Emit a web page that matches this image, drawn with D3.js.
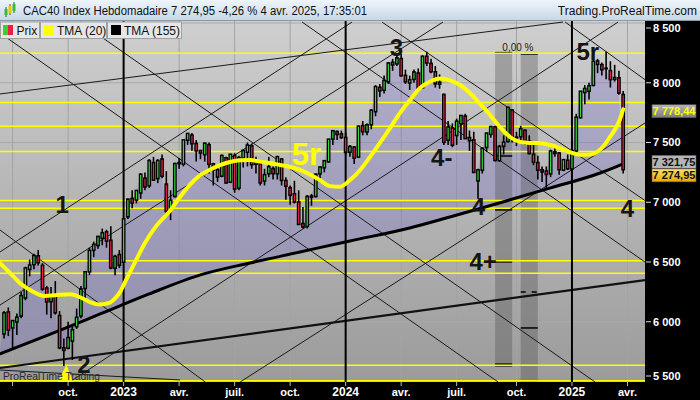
<!DOCTYPE html>
<html><head><meta charset="utf-8">
<script src="https://cdn.jsdelivr.net/npm/d3@7"></script>
<style>html,body{margin:0;padding:0;background:#000;}svg{display:block;font-family:"Liberation Sans",Arial,sans-serif;}</style>
</head><body><svg id="c" width="700" height="400"></svg>
<script>
// ---------- DATA ----------
const firstWeek = "2022-06-20"; // Monday of first weekly bar
const opens  = [5900,6080,5950,6000,6050,6200,6440,6480,6550,6470,6280,6170,6220,6050,5780,5780,5840,5960,6050,6280,6420,6600,6640,6700,6750,6680,6450,6560,
 6500,6880,7030,7020,7080,7200,7140,7330,7200,7360,7150,6950,7050,7330,7320,7520,7560,7490,7430,7400,7480,7320,7270,7220,7370,7170,7390,7120,7370,7420,7470,7320,7320,7180,7240,7280,7240,7360,7180,7120,7070,7000,6820,6800,7050,7050,7240,7290,7340,7530,7590,7570,
 7540,7420,7460,7380,7640,7590,7650,7760,7960,7940,8010,8170,8160,8200,8060,8000,8030,8080,7960,8220,8160,8090,7990,7900,7520,7620,7560,7660,7720,7540,7520,7180,7270,7460,7570,7630,7350,7470,7510,7770,7540,7550,7600,7510,7400,7330,7270,7260,7240,7420,7410,7270,7350,
 7280,7430,7710,7920,7930,7980,8180,8150,8120,8100,8030,8040,7900];
const highs  = [6090,6120,6010,6070,6250,6460,6520,6570,6600,6490,6300,6290,6340,6090,5860,6000,5970,6110,6300,6420,6620,6670,6720,6780,6770,6800,6560,6600,
 6870,7030,7100,7100,7240,7250,7360,7380,7360,7400,7260,7100,7330,7370,7520,7580,7580,7520,7440,7500,7500,7330,7290,7400,7380,7400,7410,7390,7440,7500,7490,7380,7350,7280,7380,7300,7390,7370,7210,7140,7180,7100,6960,7060,7070,7240,7300,7350,7530,7600,7600,7600,
 7580,7480,7470,7640,7680,7660,7780,7980,7990,8060,8170,8200,8250,8240,8110,8060,8110,8120,8230,8260,8200,8140,8070,7910,7680,7660,7700,7730,7740,7600,7590,7280,7460,7580,7640,7640,7480,7560,7800,7780,7590,7640,7610,7560,7500,7390,7300,7300,7440,7470,7420,7360,7400,
 7500,7740,7930,7980,8000,8200,8200,8170,8260,8180,8150,8100,7930];
const lows   = [5860,5880,5780,5890,6030,6180,6380,6440,6470,6260,6060,6030,6060,5770,5630,5770,5680,5940,6030,6180,6390,6540,6610,6640,6620,6440,6390,6450,
 6500,6860,6950,6990,7030,7100,7120,7180,7160,7200,6880,6850,7040,7280,7300,7480,7430,7340,7360,7340,7240,7140,7170,7210,7160,7160,7080,7100,7290,7300,7280,7240,7140,7140,7210,7190,7190,7140,7020,6980,6990,6810,6780,6780,6970,7040,7200,7250,7330,7480,7520,7530,
 7400,7380,7320,7370,7560,7560,7610,7720,7880,7910,7990,8100,8140,8050,7990,7940,8000,7930,7950,8140,8080,7960,7950,7480,7480,7460,7480,7520,7530,7430,7250,7030,7240,7420,7540,7340,7340,7400,7500,7500,7470,7500,7480,7400,7310,7190,7170,7110,7210,7380,7230,7260,7270,
 7270,7400,7700,7820,7860,7970,8080,8060,8030,7960,8010,7900,7240];
const closes = [6073,5931,6008,6036,6217,6449,6472,6553,6495,6274,6168,6212,6077,5783,5762,5866,5932,6035,6273,6416,6595,6644,6712,6742,6677,6452,6546,6474,
 6860,7024,6996,7097,7233,7130,7348,7187,7348,7220,6925,7015,7322,7325,7520,7574,7491,7432,7414,7492,7319,7270,7213,7389,7163,7400,7112,7372,7432,7477,7316,7341,7164,7229,7296,7241,7379,7184,7135,7060,7003,6816,6795,7047,7045,7233,7293,7346,7526,7597,7569,7543,
 7420,7465,7371,7635,7592,7647,7768,7966,7934,8017,8164,8151,8206,8061,8010,8022,8088,7957,8219,8167,8094,7993,8002,7503,7628,7479,7676,7724,7534,7517,7251,7269,7449,7577,7631,7352,7465,7500,7792,7541,7542,7613,7497,7409,7338,7270,7255,7235,7427,7410,7274,7355,
 7282,7431,7710,7927,7950,7973,8178,8155,8111,8120,8028,8042,7916,7275];

// TMA(20) (week position, value)
const tma20Pos = [-1,1.4,3.7,6.1,9.6,11.9,15.5,17.8,20.1,22.5,24.8,26,27.2,28.3,30.7,33,35.4,38.9,41.2,43.6,45.9,48.2,50.6,52.9,55.3,57.6,59.9,62.3,64.6,67,69.3,71.7,74,76.3,78.7,81,83.4,85.7,88,90.4,92.7,95.1,97.4,99.8,102.1,104.4,106.8,109.1,111.5,113.8,116.1,118.5,120.8,123.2,125.5,127.9,130.2,132.5,134.9,137.2,139.6,141.9,144.2,145];
const tma20Val = [6492,6408,6325,6266,6216,6222,6230,6205,6165,6145,6160,6195,6250,6330,6500,6660,6790,6930,7044,7150,7225,7272,7310,7337,7352,7354,7340,7328,7312,7295,7270,7230,7185,7135,7130,7185,7270,7379,7496,7621,7746,7856,7956,8010,8036,8020,7981,7914,7823,7731,7630,7546,7505,7496,7494,7479,7452,7420,7398,7400,7440,7546,7690,7778.44];
// TMA(155)
const tma155Pos = [-1,11,22.5,34,46,57.6,69.3,81,95,104.4,116,128,139.6,145];
const tma155Val = [5731,5898,6065,6233,6392,6492,6584,6676,6785,6877,6994,7120,7245,7321.75];

// Horizontal (yellow) levels
const yellowLevels = [8247,7835,7637,7425,7015,6950,6511,6406,5636,5507];
// Axis
const priceTicks = [5500,6000,6500,7000,7500,8000,8500];
const timeTickWeeks = ["2022-07-04","2022-10-03","2023-01-02","2023-04-03","2023-07-03","2023-10-02","2024-01-01","2024-04-01","2024-07-01","2024-10-07","2025-01-06","2025-04-07"];
const timeTickLabels = ["","oct.","2023","avr.","juil.","oct.","2024","avr.","juil.","oct.","2025","avr."];
const yearWeeks = ["2023-01-02","2024-01-01","2025-01-06"];
// Drawn lines: [week position, value, week position, value]
const thinLines = [
  [-0.95,7906,130.9,8508],
  [-0.95,8416,115.7,5496],
  [-0.95,6768,47.1,5496],
  [17.8,8508,138.4,5496],
  [69.8,8508,150.1,6500],
  [88.5,8508,150.1,7015],
  [131.4,8508,150.1,8026],
  [15.4,5496,143.8,8508],
  [-0.95,6140,102.8,8508],
  [-0.95,6584,81.5,8508],
  [55.3,5496,150.1,7663],
  [-0.95,5596,41.2,5513]
];
const thickLines = [
  [-0.95,5613,150.1,6349]
];
// wave labels
const waveText = ["1","2","3","4-","4","4+","5r","4"];
const wavePos  = [13.6,18.7,91.9,102.5,111.1,112.2,136.7,146];
const waveVal  = [6986,5647,8295,7375,6969,6509,8266,6948];
const bigLabelText = "5r", bigLabelPos = 70.8, bigLabelVal = 7408;
// vertical zones
const zoneFrom = [115,121], zoneTo = [119,125], zoneTop = [8252,8241], zoneBottom = [5630,5490];
const zoneMarksA = [8252,7387,6936,6501,5645,5632];
const zoneMarksB = [8241,5948];
const zoneDashB = [6249];
const lastClose = 7274.95, lastTma20 = 7778.44, lastTma155 = 7321.75;

// ---------- SCALES ----------
const msWeek = 7*864e5;
const wk = d => (new Date(d+"T00:00:00Z") - new Date(firstWeek+"T00:00:00Z"))/msWeek;
const x = d3.scaleLinear().domain([0,145]).range([4.05,623.2]);
const y = d3.scaleLinear().domain([5500,8500]).range([381.5,23]);
const P = {l:0,t:20,r:645,b:382};

const svg = d3.select("#c");
const defs = svg.append("defs");
function grad(id, a, b){ const g=defs.append("linearGradient").attr("id",id).attr("x1",0).attr("y1",0).attr("x2",0).attr("y2",1);
  g.append("stop").attr("offset",0).attr("stop-color",a); g.append("stop").attr("offset",1).attr("stop-color",b); }
grad("bg","#cfcfcf","#9b9b9b"); grad("tb","#eef5fb","#c6d7e6"); grad("gold","#ffe070","#e8a800"); grad("gr","#b4b4b4","#7c7c7c");
defs.append("clipPath").attr("id","clip").append("rect").attr("x",P.l).attr("y",P.t).attr("width",P.r-P.l).attr("height",P.b-P.t);

svg.append("rect").attr("width",700).attr("height",400).attr("fill","#000");
svg.append("rect").attr("x",P.l).attr("y",P.t).attr("width",P.r-P.l).attr("height",P.b-P.t).attr("fill","url(#bg)");
const plot = svg.append("g").attr("clip-path","url(#clip)");

// grid
const tickX = timeTickWeeks.map(d=>x(wk(d)));
plot.selectAll(".vg").data(tickX).join("line").attr("x1",d=>d).attr("x2",d=>d).attr("y1",P.t).attr("y2",P.b).attr("stroke","#a3a3a3").attr("stroke-width",1);
plot.selectAll(".hg").data(priceTicks).join("line").attr("x1",P.l).attr("x2",P.r).attr("y1",d=>y(d)).attr("y2",d=>y(d)).attr("stroke","#a8a8a8").attr("stroke-width",1);

// area between close and TMA155
const areaPts = closes.map((c,i)=>[x(i),y(c)]).concat(tma155Pos.map((p,i)=>[x(p),y(tma155Val[i])]).reverse());
plot.append("path").attr("d",d3.line()(areaPts)+"Z").attr("fill","rgba(112,100,210,0.28)");

// zones
zoneFrom.forEach((f,k)=>{
  plot.append("rect").attr("x",x(f)).attr("width",x(zoneTo[k])-x(f)).attr("y",y(zoneTop[k])).attr("height",y(zoneBottom[k])-y(zoneTop[k])).attr("fill","rgba(70,70,70,0.32)");
});
zoneMarksA.forEach(v=>plot.append("line").attr("x1",x(zoneFrom[0])).attr("x2",x(zoneTo[0])).attr("y1",y(v)).attr("y2",y(v)).attr("stroke","#000").attr("stroke-width",1.5));
zoneMarksB.forEach(v=>plot.append("line").attr("x1",x(zoneFrom[1])).attr("x2",x(zoneTo[1])).attr("y1",y(v)).attr("y2",y(v)).attr("stroke","#000").attr("stroke-width",1.5));
zoneDashB.forEach(v=>plot.append("line").attr("x1",x(zoneFrom[1])).attr("x2",x(zoneTo[1])).attr("y1",y(v)).attr("y2",y(v)).attr("stroke","#000").attr("stroke-width",1.5).attr("stroke-dasharray","5,6"));

// yellow levels
plot.selectAll(".yl").data(yellowLevels).join("line").attr("x1",P.l).attr("x2",P.r).attr("y1",d=>y(d)).attr("y2",d=>y(d)).attr("stroke","#ffff00").attr("stroke-width",1.5);

// drawn lines
thinLines.forEach(l=>plot.append("line").attr("x1",x(l[0])).attr("y1",y(l[1])).attr("x2",x(l[2])).attr("y2",y(l[3])).attr("stroke","#1a1a1a").attr("stroke-width",1));
thickLines.forEach(l=>plot.append("line").attr("x1",x(l[0])).attr("y1",y(l[1])).attr("x2",x(l[2])).attr("y2",y(l[3])).attr("stroke","#111").attr("stroke-width",2.2));

// year separators
yearWeeks.forEach(d=>plot.append("line").attr("x1",x(wk(d))).attr("x2",x(wk(d))).attr("y1",P.t).attr("y2",P.b).attr("stroke","#000").attr("stroke-width",2));

// TMA155
plot.append("path").attr("d",d3.line().curve(d3.curveMonotoneX)(tma155Pos.map((p,i)=>[x(p),y(tma155Val[i])]))).attr("fill","none").attr("stroke","#000").attr("stroke-width",3);

// candles
const cg = plot.append("g");
closes.forEach((c,i)=>{
  const o=opens[i], xc=x(i);
  cg.append("line").attr("x1",xc).attr("x2",xc).attr("y1",y(highs[i])).attr("y2",y(lows[i])).attr("stroke","#000").attr("stroke-width",1.6);
  const top=Math.min(y(o),y(c)), bot=Math.max(y(o),y(c));
  cg.append("rect").attr("x",xc-1.9).attr("width",3.8).attr("y",top-1).attr("height",bot-top+2).attr("fill","#000");
  if (bot-top>1) cg.append("line").attr("x1",xc).attr("x2",xc).attr("y1",top+0.5).attr("y2",bot-0.5).attr("stroke",c>=o?"#3cd83c":"#f0204a").attr("stroke-width",1.2);
});

// TMA20
plot.append("path").attr("d",d3.line().curve(d3.curveMonotoneX)(tma20Pos.map((p,i)=>[x(p),y(tma20Val[i])]))).attr("fill","none").attr("stroke","#ffff00").attr("stroke-width",4).attr("stroke-linecap","round");

// labels
waveText.forEach((t,k)=>{
  plot.append("text").attr("x",x(wavePos[k])).attr("y",y(waveVal[k])).attr("dy","0.36em").attr("text-anchor","middle").attr("font-size",24).attr("font-weight","bold").attr("fill","#151515").text(t);
});
plot.append("text").attr("x",x(bigLabelPos)).attr("y",y(bigLabelVal)).attr("dy","0.36em").attr("text-anchor","middle").attr("font-size",31).attr("font-weight","bold").attr("fill","#ffff00").text(bigLabelText);
plot.append("text").attr("x",(x(zoneFrom[1])+x(zoneFrom[0]))/2+10).attr("y",y(8295)).attr("dy","0.35em").attr("text-anchor","middle").attr("font-size",10).attr("fill","#1a1a1a").text("0,00 %");
plot.append("path").attr("d",d3.line()([[x(14.6),y(5640)],[x(12.6),y(5495)],[x(16.2),y(5495)]])+"Z").attr("fill","#ffff00");
plot.append("text").attr("x",3).attr("y",380).attr("font-size",11).attr("textLength",97).attr("lengthAdjust","spacingAndGlyphs").attr("fill","#2a2a2a").text("ProRealTime Trading");

// ---------- AXES ----------
const ya = svg.append("g");
priceTicks.forEach(v=>{
  const yy = Math.max(28, Math.min(376, y(v)));
  ya.append("line").attr("x1",646).attr("x2",651).attr("y1",yy).attr("y2",yy).attr("stroke","#ddd");
  ya.append("text").attr("x",653).attr("y",yy).attr("dy","0.36em").attr("font-size",11).attr("font-weight","bold").attr("fill","#fff").text(d3.format(",")(v).replace(",", " "));
});
const fmtP = v => d3.format(",.2f")(v).replace(",", " ").replace(".", ",");
function priceBox(v, yy, fill, tc){
  ya.append("rect").attr("x",652).attr("y",yy-6.5).attr("width",44).attr("height",13).attr("fill",fill).attr("stroke","#555").attr("stroke-width",0.6);
  ya.append("text").attr("x",674).attr("y",yy).attr("dy","0.36em").attr("text-anchor","middle").attr("font-size",11).attr("font-weight","bold").attr("fill",tc).text(fmtP(v));
}
priceBox(lastTma20, y(lastTma20)+2, "url(#gr)", "#ffff00");
priceBox(lastTma155, y(lastTma155)-2, "#b4b4b4", "#111");
priceBox(lastClose, y(lastClose)+6, "url(#gold)", "#111");

const xa = svg.append("g");
tickX.forEach((px,k)=>{
  xa.append("line").attr("x1",px).attr("x2",px).attr("y1",P.b).attr("y2",P.b+4).attr("stroke","#bbb");
  const yr = /^\d{4}$/.test(timeTickLabels[k]);
  xa.append("text").attr("x",px).attr("y",392).attr("dy","0.36em").attr("text-anchor","middle").attr("font-size",yr?12:11).attr("font-weight","bold").attr("fill","#fff").text(timeTickLabels[k]);
});

// ---------- HEADER ----------
svg.append("rect").attr("x",0).attr("y",0).attr("width",700).attr("height",20).attr("fill","url(#tb)");
svg.append("line").attr("x1",0).attr("x2",700).attr("y1",20.5).attr("y2",20.5).attr("stroke","#8a9aaa");
[[6,9,15,"#3cb83c"],[10,6,13,"#e8c800"],[14,4,11,"#3cb83c"]].forEach(c=>{
  svg.append("line").attr("x1",c[0]).attr("x2",c[0]).attr("y1",c[1]-2).attr("y2",c[2]+2).attr("stroke","#2a6a2a");
  svg.append("rect").attr("x",c[0]-1.5).attr("y",c[1]).attr("width",3).attr("height",c[2]-c[1]).attr("fill",c[3]);
});
svg.append("text").attr("x",23).attr("y",14.5).attr("font-size",12).attr("fill","#111").attr("textLength",344).attr("lengthAdjust","spacingAndGlyphs").text("CAC40 Index Hebdomadaire 7 274,95 -4,26 % 4 avr. 2025, 17:35:01");
svg.append("text").attr("x",697).attr("y",14.5).attr("text-anchor","end").attr("font-size",12).attr("fill","#111").text("Trading.ProRealTime.com");

// legend
const leg = [{x:0,w:39.5,t:"Prix"},{x:40,w:66.5,t:"TMA (20)",c:"#ffff00"},{x:107,w:74.5,t:"TMA (155)",c:"#000"}];
leg.forEach(l=>{
  svg.append("rect").attr("x",l.x+0.5).attr("y",22).attr("width",l.w-0.5).attr("height",16.5).attr("fill","#e6e6e6").attr("stroke","#a0a0a0");
  if(l.c){ svg.append("rect").attr("x",l.x+4).attr("y",25).attr("width",10).attr("height",10).attr("fill",l.c);}
  else { svg.append("rect").attr("x",l.x+3).attr("y",25).attr("width",5).attr("height",10).attr("fill","#3ccc3c");
         svg.append("rect").attr("x",l.x+8).attr("y",25).attr("width",5).attr("height",10).attr("fill","#ee2040"); }
  svg.append("text").attr("x",l.x+(l.c?17:16.5)).attr("y",34.5).attr("font-size",12).attr("fill","#111").text(l.t);
});
</script></body></html>
